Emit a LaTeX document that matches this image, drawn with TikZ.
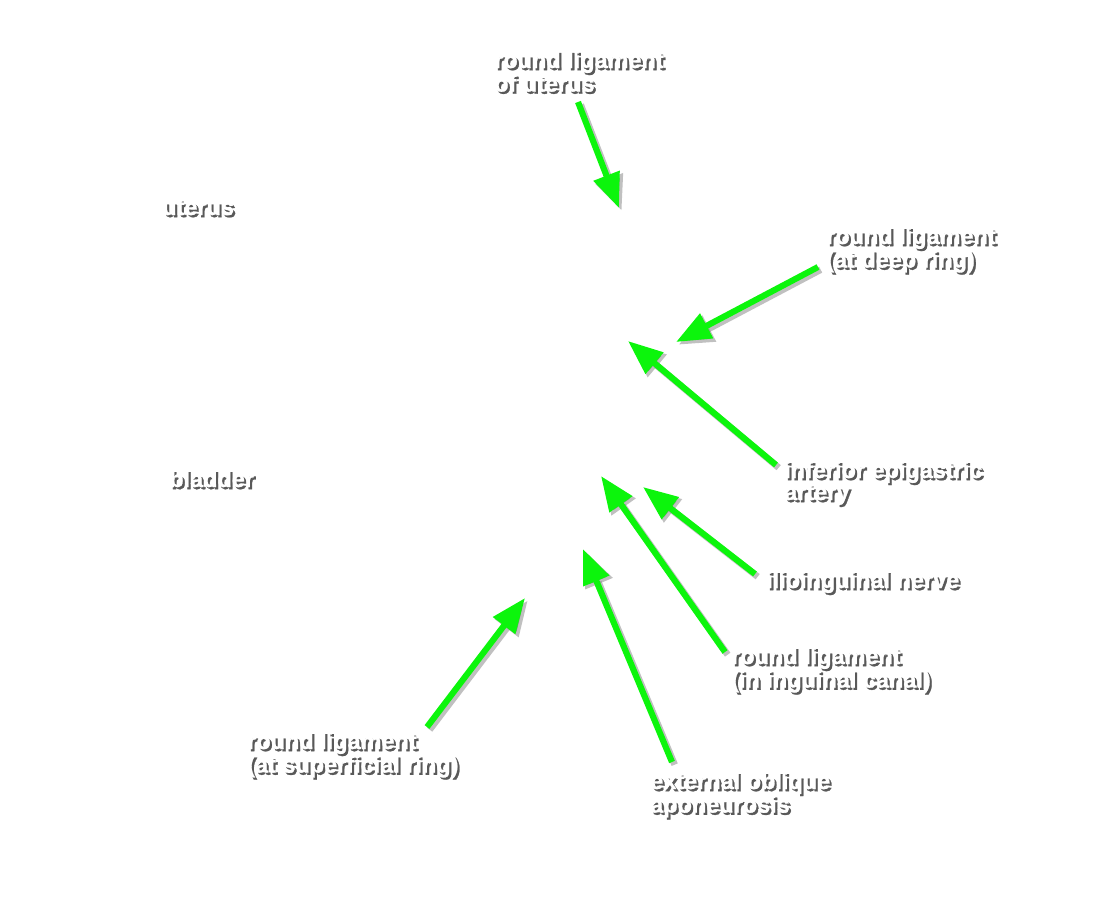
\documentclass[tikz,border=0pt]{standalone}
\usepackage{fontspec}
\setmainfont{Liberation Sans}
\newfontfamily\lblfont{Liberation Sans}[FakeBold=1.1]
\usetikzlibrary{arrows.meta}
\definecolor{arrowgreen}{RGB}{12,245,12}
\newcommand{\shtext}[1]{\makebox[0pt][l]{\raisebox{-1.6pt}{\kern1.6pt\textcolor{black!65}{#1}}}#1}
\newcommand{\lines}[1]{\shtext{\begin{tabular}[t]{@{}l@{}}#1\end{tabular}}}

\begin{document}
\begin{tikzpicture}[x=0.75pt,y=0.75pt,yscale=-1,xscale=1,
  lbl/.style={anchor=base west, inner sep=0pt, text=white, font=\lblfont\fontsize{17.6}{16.5}\bfseries\selectfont},
  pointer/.style={draw=arrowgreen, line width=4.6pt, -{Triangle[length=26pt,width=20pt]}},
  pointershadow/.style={draw=black!45, draw opacity=0.55, line width=5pt, -{Triangle[length=26pt,width=21pt]}, transform canvas={xshift=2pt,yshift=-2pt}}]
\useasboundingbox (0,0) rectangle (1109,900);

% labels
\node[lbl] (lig uterus) at (494,68) {\lines{round ligament\\of uterus}};
\node[lbl] (uterus) at (162,215) {\lines{uterus}};
\node[lbl] (deep ring) at (826,244) {\lines{round ligament\\(at deep ring)}};
\node[lbl] (epigastric) at (784,478) {\lines{inferior epigastric\\artery}};
\node[lbl] (bladder) at (169,487) {\lines{bladder}};
\node[lbl] (ilioinguinal) at (766,588) {\lines{ilioinguinal nerve}};
\node[lbl] (canal) at (731,664) {\lines{round ligament\\(in inguinal canal)}};
\node[lbl] (superficial) at (247,749) {\lines{round ligament\\(at superficial ring)}};
\node[lbl] (oblique) at (650,789) {\lines{external oblique\\aponeurosis}};

% arrow tails and tips
\coordinate (t1) at (578,102);  \coordinate (h1) at (619,208);
\coordinate (t2) at (818,267);  \coordinate (h2) at (676,342);
\coordinate (t3) at (776,465);  \coordinate (h3) at (628,341);
\coordinate (t4) at (755,574);  \coordinate (h4) at (643,487);
\coordinate (t5) at (725,652);  \coordinate (h5) at (601,476);
\coordinate (t6) at (672,762);  \coordinate (h6) at (583,549);
\coordinate (t7) at (427,727);  \coordinate (h7) at (525,598);

\foreach \a in {1,...,7}
  \draw[pointershadow] (t\a) -- (h\a);
\foreach \a in {1,...,7}
  \draw[pointer] (t\a) -- (h\a);

\end{tikzpicture}
\end{document}
